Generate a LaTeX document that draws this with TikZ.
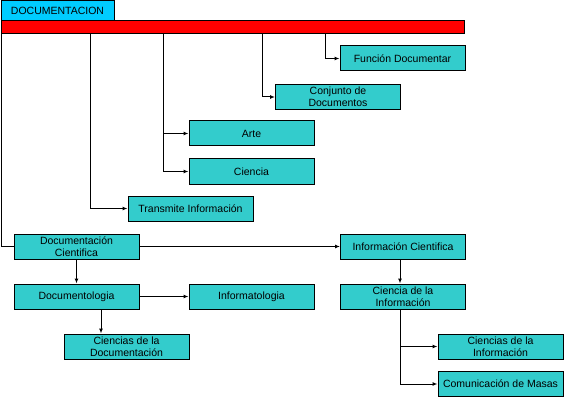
\documentclass[tikz,border=0pt]{standalone}
\usepackage{fontspec}
\setmainfont{Liberation Sans}
\usetikzlibrary{arrows.meta,calc,positioning}
\definecolor{doctab}{HTML}{00CCFF}
\definecolor{docbar}{HTML}{FF0000}
\definecolor{docbox}{HTML}{33CCCC}

\begin{document}
\begin{tikzpicture}[
  x=1pt, y=-1pt,
  every node/.style={font=\fontsize{10.5}{12}\selectfont},
  box/.style={draw, line width=1pt, fill=docbox, minimum width=125pt, minimum height=25pt, inner sep=0pt, align=center},
  link/.style={line width=1pt},
  arr/.style={link, -{Latex[length=5pt,width=4pt]}}
]
  \useasboundingbox (0,0) rectangle (564,398);

  % Header
  \node[draw, line width=1pt, fill=doctab, minimum width=113pt, minimum height=20pt, inner sep=0pt] (tab) at (57.5,11) {DOCUMENTACION};
  \node[draw, line width=1pt, fill=docbar, minimum width=463pt, minimum height=13pt, inner sep=0pt] (bar) at (232.5,27.5) {};

  % Upper boxes
  \node[box] (funcion) at (402.5,58.5) {Función Documentar};
  \node[box] (conjunto) at (338,97) {Conjunto de\\Documentos};
  \node[box] (arte) at (251.5,133.5) {Arte};
  \node[box] (ciencia) at (251.5,171.5) {Ciencia};
  \node[box] (transmite) at (190.5,208.5) {Transmite Información};

  % Left branch
  \node[box] (doccient) at (76.5,246.5) {Documentación\\Cientifica};
  \node[box] (documentologia) at (76.5,296.5) {Documentologia};
  \node[box] (informatologia) at (251.5,296.5) {Informatologia};
  \node[box] (ciencdoc) at (126.5,346.5) {Ciencias de la\\Documentación};

  % Right branch
  \node[box] (infcient) at (403,246.5) {Información Cientifica};
  \node[box] (cienciainf) at (403,296.5) {Ciencia de la\\Información};
  \node[box] (ciencinf) at (500.5,346.5) {Ciencias de la\\Información};
  \node[box] (comunic) at (500.5,384) {Comunicación de Masas};

  % Connectors from the bar
  \draw[arr] ([xshift=325pt]bar.south west) |- (funcion.west);
  \draw[arr] ([xshift=262pt]bar.south west) |- (conjunto.west);
  \draw[arr] ([xshift=163pt]bar.south west) |- (arte.west);
  \draw[arr] ([xshift=163pt]bar.south west) |- (ciencia.west);
  \draw[arr] ([xshift=90pt]bar.south west) |- (transmite.west);
  \draw[link] ([xshift=1pt]bar.south west) |- (doccient.west);

  % Lower connectors
  \draw[arr] (doccient.east) -- (infcient.west);
  \draw[arr] (doccient.south) -- (documentologia.north);
  \draw[arr] (documentologia.east) -- (informatologia.west);
  \coordinate (dsplit) at ([xshift=24.5pt]documentologia.south);
  \draw[arr] (dsplit) -- (dsplit |- ciencdoc.north);
  \draw[arr] ([xshift=-3pt]infcient.south) -- ([xshift=-3pt]cienciainf.north);
  \coordinate (isplit) at ([xshift=-3pt]cienciainf.south);
  \draw[arr] (isplit) |- (ciencinf.west);
  \draw[arr] (isplit) |- (comunic.west);
\end{tikzpicture}
\end{document}
